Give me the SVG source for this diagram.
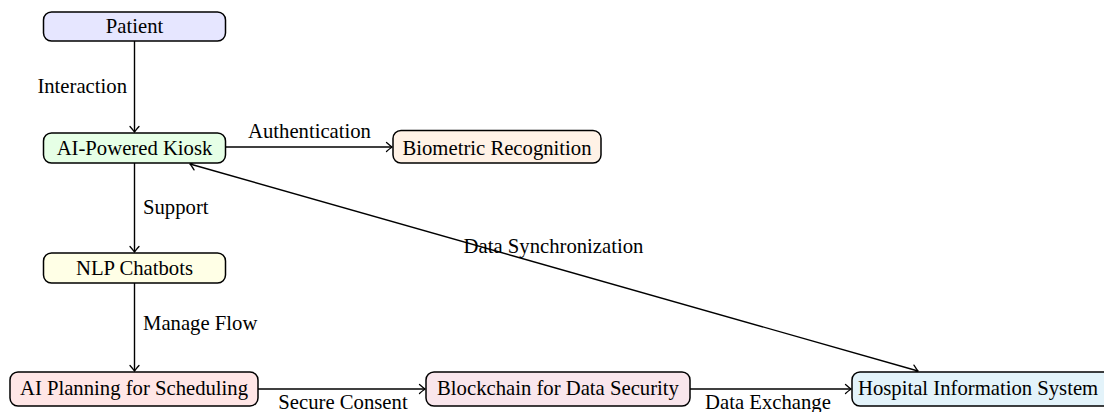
<svg xmlns="http://www.w3.org/2000/svg" width="1104" height="412" viewBox="0 0 1104 412" font-family="'Liberation Serif', 'Times New Roman', 'DejaVu Serif', serif">
<defs>
<style>
.box{stroke:#000;stroke-width:1.5}
.t{font-family:'Liberation Serif','Times New Roman','DejaVu Serif',serif;font-size:20.7px;fill:#000}
.c{text-anchor:middle}
.e{stroke:#000;stroke-width:1.4;fill:none}
</style>
<marker id="ah" markerUnits="userSpaceOnUse" viewBox="-7 -6 9 12" refX="0" refY="0" markerWidth="9" markerHeight="12" orient="auto-start-reverse">
<path d="M-5.5,-4.5 Q-1.5,-1 0,0 Q-1.5,1 -5.5,4.5" fill="none" stroke="#000" stroke-width="1.3" stroke-linecap="round"/>
</marker>
</defs>
<rect width="1104" height="412" fill="#fff"/>
<g id="connectors">
<line class="e" x1="134.5" y1="41" x2="134.5" y2="132" marker-end="url(#ah)"/>
<line class="e" x1="226" y1="147" x2="392" y2="147" marker-end="url(#ah)"/>
<line class="e" x1="134.5" y1="163" x2="134.5" y2="252" marker-end="url(#ah)"/>
<line class="e" x1="134.5" y1="283" x2="134.5" y2="371" marker-end="url(#ah)"/>
<line class="e" x1="258" y1="389" x2="425" y2="389" marker-end="url(#ah)"/>
<line class="e" x1="690" y1="389" x2="851" y2="389" marker-end="url(#ah)"/>
<line class="e" x1="190" y1="164" x2="918" y2="371" marker-start="url(#ah)" marker-end="url(#ah)"/>
<text class="t" x="127" y="93" text-anchor="end">Interaction</text>
<text class="t c" x="309.5" y="138">Authentication</text>
<text class="t" x="143" y="214">Support</text>
<text class="t" x="143" y="330">Manage Flow</text>
<text class="t c" x="343" y="409">Secure Consent</text>
<text class="t c" x="768" y="409">Data Exchange</text>
<text class="t c" x="553.5" y="253">Data Synchronization</text>
</g>
<g id="patient">
<rect class="box" x="43.5" y="12" width="182" height="29" rx="8" fill="#e6e6ff"/>
<text class="t c" x="134.5" y="33">Patient</text>
</g>
<g id="kiosk">
<rect class="box" x="43.5" y="133" width="182" height="30" rx="8" fill="#e6ffe6"/>
<text class="t c" x="134.5" y="155">AI-Powered Kiosk</text>
</g>
<g id="biometric">
<rect class="box" x="393" y="130.5" width="208" height="32.5" rx="8" fill="#fff2e6"/>
<text class="t c" x="497" y="155">Biometric Recognition</text>
</g>
<g id="nlp">
<rect class="box" x="43.5" y="253" width="182" height="30" rx="8" fill="#ffffe6"/>
<text class="t c" x="134.5" y="275">NLP Chatbots</text>
</g>
<g id="planning">
<rect class="box" x="10" y="372" width="248" height="34" rx="8" fill="#ffe6e6"/>
<text class="t c" x="134" y="395">AI Planning for Scheduling</text>
</g>
<g id="blockchain">
<rect class="box" x="426" y="372" width="264" height="34" rx="8" fill="#f9e6ec"/>
<text class="t c" x="558" y="395">Blockchain for Data Security</text>
</g>
<g id="his">
<rect class="box" x="852" y="372" width="260" height="34" rx="8" fill="#e3f3fa"/>
<text class="t" x="858" y="395">Hospital Information System</text>
</g>
</svg>
